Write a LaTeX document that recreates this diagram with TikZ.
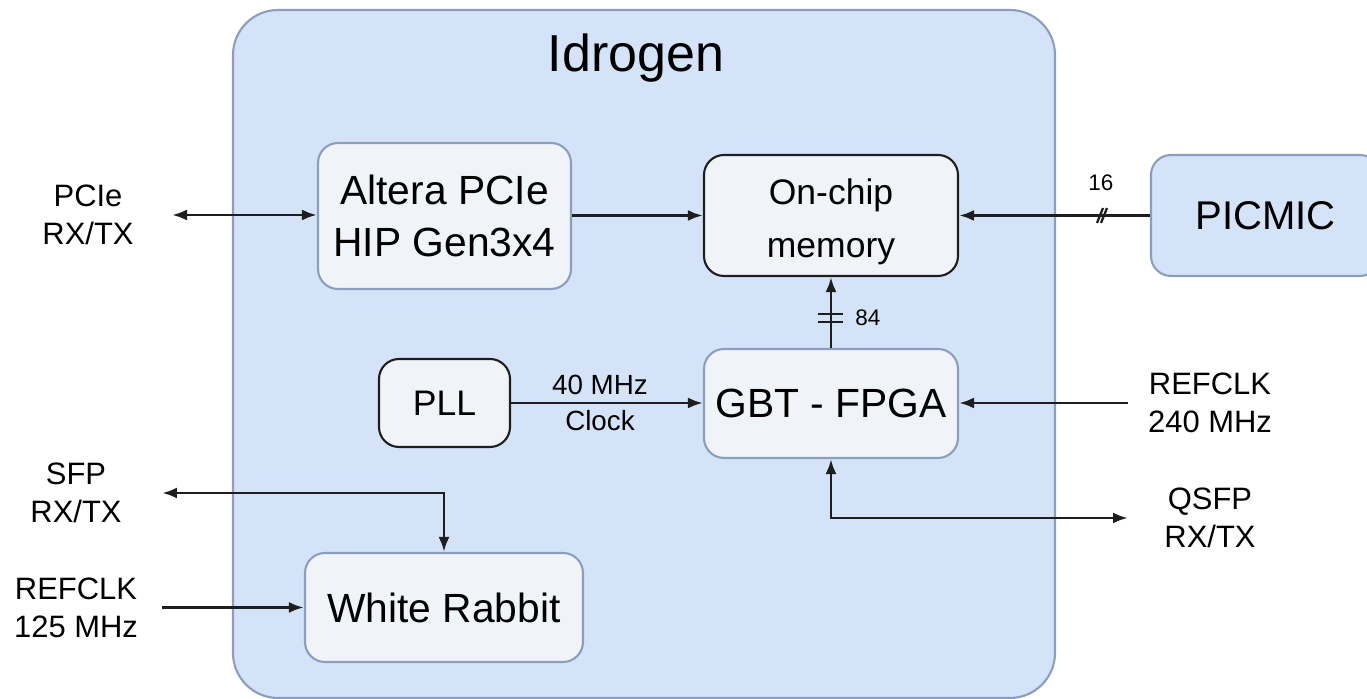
\documentclass[tikz,border=0pt]{standalone}
\usepackage{fontspec}
\setmainfont{Liberation Sans}
\usetikzlibrary{arrows.meta}
\definecolor{chipfill}{RGB}{213,227,249}
\definecolor{chipdraw}{RGB}{140,158,190}
\definecolor{blockfill}{RGB}{240,244,248}
\definecolor{linecol}{RGB}{30,30,30}
\begin{document}
\begin{tikzpicture}[every node/.style={font=\fontsize{8.8}{10.8}\selectfont, align=center},
  block/.style={rectangle, rounded corners=0.2cm, draw=chipdraw, fill=blockfill, line width=0.6pt,
    font=\fontsize{11.6}{14.8}\selectfont, inner sep=0pt},
  darkblock/.style={block, draw=linecol, font=\fontsize{10.1}{15.1}\selectfont},
  arr/.style={line width=0.8pt, draw=linecol, -{Latex[length=1.5mm, width=1.1mm]}},
  dbl/.style={arr, {Latex[length=1.5mm, width=1.1mm]}-{Latex[length=1.5mm, width=1.1mm]}}]
  \useasboundingbox (0,0) rectangle (13.67,6.99);
  % FPGA board
  \draw[fill=chipfill, draw=chipdraw, line width=0.6pt, rounded corners=0.45cm] (2.33,0.01) rectangle (10.55,6.89);
  \node[font=\fontsize{14.8}{18}\selectfont] (title) at (6.36,6.41) {Idrogen};
  % Blocks
  \node[block, minimum width=2.53cm, minimum height=1.46cm] (pcie) at (4.445,4.83) {Altera PCIe\\HIP Gen3x4};
  \node[darkblock, minimum width=2.54cm, minimum height=1.21cm] (mem) at (8.31,4.835) {\rule{0pt}{0.39cm}On-chip\\memory};
  \node[block, fill=chipfill, minimum width=2.29cm, minimum height=1.21cm, font=\fontsize{11.4}{14}\selectfont] (picmic) at (12.655,4.835) {PICMIC};
  \node[darkblock, minimum width=1.31cm, minimum height=0.88cm] (pll) at (4.445,2.96) {PLL};
  \node[block, minimum width=2.54cm, minimum height=1.09cm] (gbt) at (8.31,2.955) {GBT - FPGA};
  \node[block, minimum width=2.78cm, minimum height=1.09cm] (wr) at (4.44,0.915) {White Rabbit};
  % Outside signals
  \node (pcielbl) at (0.88,4.84) {PCIe\\RX/TX};
  \node (ref240) at (12.10,2.96) {REFCLK\\240 MHz};
  \node (qsfp) at (12.10,1.815) {QSFP\\RX/TX};
  \node (sfp) at (0.76,2.065) {SFP\\RX/TX};
  \node (ref125) at (0.76,0.915) {REFCLK\\125 MHz};
  \coordinate (pcieend) at (1.72,4.84);
  \coordinate (ref240end) at (11.28,2.96);
  \coordinate (qsfpend) at (11.28,1.81);
  \coordinate (sfpend) at (1.62,2.06);
  \coordinate (ref125end) at (1.62,0.915);
  % Connections
  \draw[dbl] (pcieend) -- (pcie.west |- pcieend);
  \draw[arr] (pcie.east |- mem) -- (mem.west);
  \draw[arr] (picmic.west) -- (mem.east);
  \draw[arr] (gbt.north) -- (mem.south);
  \draw[arr] (pll.east) -- node[font=\fontsize{7.9}{10}\selectfont, xshift=-0.07cm] (clk) {40 MHz\\Clock} (pll.east -| gbt.west);
  \draw[arr] (ref240end) -- (ref240end -| gbt.east);
  \draw[dbl] (gbt.south) |- (qsfpend);
  \draw[dbl] (sfpend) -| (wr.north);
  \draw[arr] (ref125end) -- (wr.west);
  % Bus widths
  \draw[line width=0.65pt, linecol] (10.97,4.76) -- (11.03,4.91) (11.01,4.76) -- (11.07,4.91);
  \node[font=\fontsize{6.4}{8}\selectfont] (w16) at (11.01,5.16) {16};
  \draw[line width=0.6pt, linecol] (8.18,3.85) -- (8.43,3.85) (8.18,3.77) -- (8.43,3.77);
  \node[font=\fontsize{6.4}{8}\selectfont] (w84) at (8.68,3.81) {84};
\end{tikzpicture}
\end{document}
